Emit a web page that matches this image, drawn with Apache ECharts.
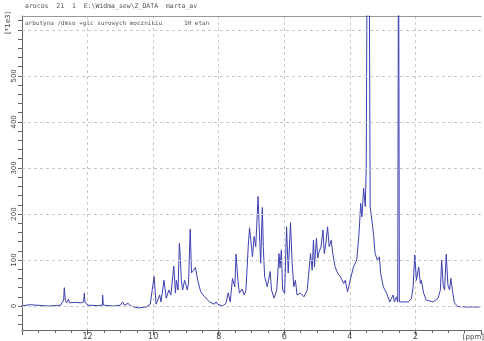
<!DOCTYPE html>
<html><head><meta charset="utf-8">
<script src="https://cdn.jsdelivr.net/npm/echarts@6/dist/echarts.min.js"></script>
<style>html,body{margin:0;padding:0;background:#fff}#c{width:484px;height:341px}</style>
</head><body><div id="c"></div>
<script>
// chemical shift (ppm) and intensity (x1e3)
const ppmValues = [
14.03,13.76,13.70,13.18,12.82,12.73,12.71,12.68,12.64,12.58,12.55,12.39,12.21,12.12,12.10,12.08,12.00,11.70,11.55,11.54,11.52,11.21,11.00,10.93,10.88,10.76,10.70,10.45,10.21,10.09,10.05,9.97,9.91,9.85,
9.80,9.76,9.67,9.60,9.52,9.46,9.37,9.32,9.29,9.24,9.20,9.17,9.14,9.10,9.04,8.96,8.92,8.87,8.83,8.77,8.71,8.64,8.55,8.43,8.28,8.13,8.08,8.03,7.88,7.78,7.71,7.65,7.58,7.51,7.47,7.42,7.37,7.29,7.22,7.17,
7.10,7.06,7.02,6.97,6.92,6.87,6.80,6.77,6.72,6.67,6.64,6.60,6.52,6.43,6.39,6.31,6.23,6.16,6.13,6.09,6.05,5.99,5.93,5.88,5.81,5.76,5.71,5.66,5.61,5.51,5.40,5.30,5.26,5.20,5.15,5.11,5.08,5.02,4.98,4.95,
4.88,4.82,4.78,4.73,4.68,4.63,4.57,4.52,4.45,4.37,4.29,4.19,4.14,4.07,3.99,3.89,3.79,3.72,3.67,3.63,3.58,3.53,3.50,3.475,3.445,3.41,3.38,3.33,3.28,3.23,3.16,3.10,3.06,2.98,2.88,2.78,2.73,2.68,2.64,2.58,
2.54,2.515,2.49,2.45,2.37,2.22,2.12,2.07,2.02,1.97,1.90,1.85,1.82,1.75,1.67,1.46,1.31,1.24,1.20,1.15,1.11,1.06,1.01,0.96,0.92,0.86,0.81,0.71,0.45,0.03
];
const intensityValues = [
0,3,0,0,2,13,40,13,7,15,7,8,7,9,28,9,2,1,2,24,2,0,2,9,2,6,0,-4,-2,4,2,64,4,7,
24,9,56,17,35,24,87,28,56,35,136,104,56,35,56,35,50,167,72,77,84,56,31,20,9,4,9,4,0,6,29,9,60,42,113,61,28,37,24,35,
129,170,143,107,151,129,238,180,93,214,129,64,42,75,35,17,35,114,83,122,35,28,172,72,181,93,42,56,24,28,20,35,67,114,78,143,85,147,104,115,
129,165,114,137,172,129,143,114,85,71,64,49,56,31,56,85,100,158,223,194,256,216,303,760,700,760,216,187,158,114,100,107,71,42,28,9,17,24,9,20,
9,900,9,13,9,9,17,42,111,56,85,49,56,28,13,9,17,35,100,42,35,113,46,35,60,28,7,-1,-2,-2
];
const yLabelValues = [0,100,200,300,400,500];
const yGridValues = [0,100,200,300,400,500,600];
const yTickValues = [-40,-20,0,20,40,60,80,100,120,140,160,180,200,220,240,260,280,300,320,340,360,380,400,420,440,460,480,500,520,540,560,580,600,620];
const xLabelValues = [12,10,8,6,4,2];

const seriesData = ppmValues.map((p, i) => [p, intensityValues[i]]);
const chart = echarts.init(document.getElementById('c'), null, {renderer: 'canvas'});
const gridCol = '#c8c8c8';
const axisCol = '#666';
chart.setOption({
  animation: false,
  backgroundColor: '#fff',
  grid: {left: 22, right: 0, top: 16, bottom: 11, containLabel: false},
  xAxis: [{
    type: 'value', min: 0, max: 14, interval: 2, inverse: true, position: 'bottom',
    axisLine: {show: true, onZero: false, lineStyle: {color: axisCol, width: 1}},
    axisTick: {show: true, length: 5, inside: false, lineStyle: {color: axisCol}},
    minorTick: {show: true, splitNumber: 4, length: 3, lineStyle: {color: axisCol}},
    axisLabel: {fontSize: 8, color: '#444', margin: 3, fontFamily: 'DejaVu Sans',
      formatter: v => xLabelValues.includes(v) ? String(v) : ''},
    splitLine: {show: true, showMinLine: false, showMaxLine: false, lineStyle: {color: gridCol, type: [3, 3], width: 1}}
  }, {
    type: 'value', min: 0, max: 14, inverse: true, position: 'top',
    axisLine: {show: true, onZero: false, lineStyle: {color: '#999', width: 1}},
    axisTick: {show: false}, axisLabel: {show: false}, splitLine: {show: false}
  }],
  yAxis: [{
    type: 'value', min: -52, max: 630, position: 'left',
    axisLine: {show: true, onZero: false, lineStyle: {color: axisCol, width: 1}},
    axisTick: {show: true, length: 4, customValues: yTickValues, lineStyle: {color: axisCol}},
    axisLabel: {fontSize: 7, color: '#444', margin: 4, rotate: 90, fontFamily: 'DejaVu Sans',
      customValues: yLabelValues, formatter: v => String(v)},
    splitLine: {show: false}
  }],
  graphic: [
    {type: 'text', left: 25, top: 3, style: {text: 'arocos  21  1  E:\\Widma_sew\\Z_DATA  marta_av', font: '6.5px "DejaVu Sans Mono"', fill: '#555'}},
    {type: 'text', left: 25, top: 20, style: {text: 'arbutyna /dmso +glc surowych mocznikiu      1H etan', font: '6px "DejaVu Sans Mono"', fill: '#555'}},
    {type: 'text', x: 5, y: 34, rotation: Math.PI / 2, style: {text: '[*1e3]', font: '7px "DejaVu Sans"', fill: '#444'}},
    {type: 'text', right: 0, top: 334, style: {text: '[ppm]', font: '7px "DejaVu Sans"', fill: '#444'}}
  ],
  series: [{
    type: 'line', xAxisIndex: 0, yAxisIndex: 0, data: [], z: 1, silent: true,
    markLine: {
      silent: true, symbol: 'none', label: {show: false}, animation: false,
      lineStyle: {color: gridCol, type: [3, 3], width: 1},
      data: yGridValues.map(v => ({yAxis: v}))
    }
  }, {
    type: 'line', xAxisIndex: 0, yAxisIndex: 0, data: seriesData, z: 3,
    showSymbol: false, clip: true,
    lineStyle: {color: '#3c40b0', width: 1}
  }]
});
</script></body></html>
